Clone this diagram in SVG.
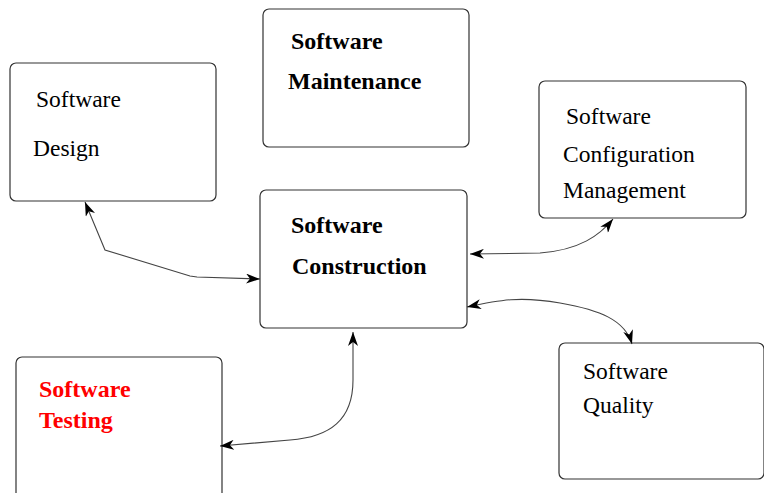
<svg xmlns="http://www.w3.org/2000/svg" width="764" height="493" viewBox="0 0 764 493">
<style>
.box{fill:#fff;stroke:#333;stroke-width:1.2}
.t{font-family:"Liberation Serif",serif;font-size:23.5px;fill:#000}
.b{font-weight:bold;font-size:24px}
.red{fill:#ff0000}
.c{fill:none;stroke:#444;stroke-width:1.1}
</style>
<defs>
<marker id="ah" viewBox="0 0 14 10" refX="14" refY="5" markerWidth="14" markerHeight="10" markerUnits="userSpaceOnUse" orient="auto-start-reverse">
<path d="M0,0 L14,5 L0,10 L4,5 z" fill="#000"/>
</marker>
</defs>
<g id="design"><rect class="box" x="10" y="63" width="206" height="138" rx="6"/><text class="t" x="36" y="107">Software</text><text class="t" x="33" y="156">Design</text></g>
<g id="maintenance"><rect class="box" x="263" y="9" width="206" height="138" rx="6"/><text class="t b" x="291" y="49">Software</text><text class="t b" x="288" y="89">Maintenance</text></g>
<g id="construction"><rect class="box" x="260" y="190" width="207" height="138" rx="6"/><text class="t b" x="291" y="233">Software</text><text class="t b" x="292" y="274">Construction</text></g>
<g id="config"><rect class="box" x="539" y="81" width="207" height="137" rx="6"/><text class="t" x="566" y="124">Software</text><text class="t" x="563" y="162">Configuration</text><text class="t" x="563" y="198">Management</text></g>
<g id="quality"><rect class="box" x="559" y="343" width="205" height="136" rx="6"/><text class="t" x="583" y="379">Software</text><text class="t" x="583" y="413">Quality</text></g>
<g id="testing"><rect class="box" x="16" y="357" width="206" height="145" rx="6"/><text class="t b red" x="39" y="397">Software</text><text class="t b red" x="39" y="428">Testing</text></g>
<g id="connectors">
<path class="c" d="M85,202 L105,250 L190,276 L197,277 L260,279" marker-start="url(#ah)" marker-end="url(#ah)"/>
<path class="c" d="M470,254 L540,253 C580,250 600,235 613,219" marker-start="url(#ah)" marker-end="url(#ah)"/>
<path class="c" d="M467,307 C500,300 520,296 560,303 C600,310 625,320 632,344" marker-start="url(#ah)" marker-end="url(#ah)"/>
<path class="c" d="M353,332 L353,380 C353,420 330,437 290,440 L220,446" marker-start="url(#ah)" marker-end="url(#ah)"/>
</g>
</svg>
